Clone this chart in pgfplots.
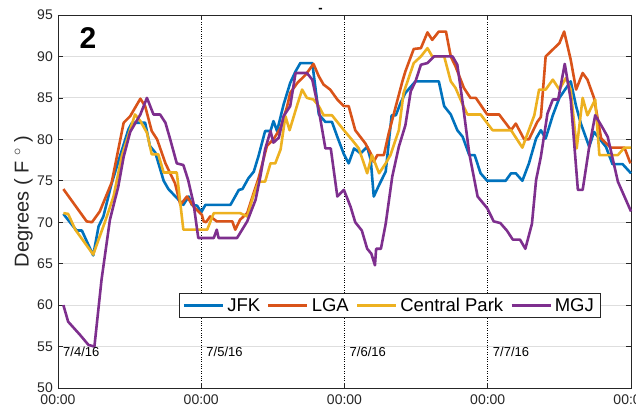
\documentclass[border=0pt]{standalone}
\usepackage{pgfplots}
\pgfplotsset{compat=1.18}
\usepackage{fontspec}
\setmainfont{Liberation Sans}
\definecolor{cJFK}{rgb}{0,0.447,0.741}
\definecolor{cLGA}{rgb}{0.85,0.325,0.098}
\definecolor{cCP}{rgb}{0.929,0.694,0.125}
\definecolor{cMGJ}{rgb}{0.494,0.184,0.556}
\definecolor{axgray}{rgb}{0.15,0.15,0.15}
\begin{document}
\begin{tikzpicture}
\begin{axis}[name=ax, scale only axis, width=573bp, height=373bp,
  xmin=0, xmax=96, ymin=50, ymax=95, clip=false,
  xtick={0,24,48,72,96}, xticklabels={00:00,00:00,00:00,00:00,00:00},
  ytick={50,55,...,95},
  tick align=inside, major tick length=5bp,
  axis line style={axgray, line width=0.7bp},
  every tick/.style={axgray, line width=0.7bp},
  ymajorgrids, xmajorgrids,
  y grid style={black!13, line width=0.8bp},
  x grid style={black, dotted, line width=0.8bp},
  tick label style={font=\fontsize{14bp}{16bp}\selectfont, text=axgray},
  /pgf/number format/assume math mode=true,
  yticklabel style={inner xsep=0pt, inner ysep=0pt, xshift=-5bp},
  xticklabel style={inner ysep=0pt, yshift=-6.5bp},
  ylabel={Degrees ( F $^\circ$ )},
  every axis y label/.style={at={(axis description cs:-0.0436,0.5)}, rotate=90, anchor=south, inner sep=0pt, font=\fontsize{20bp}{24bp}\selectfont, text=axgray},
  every axis plot/.append style={line width=2.6bp, line join=round},
  legend columns=4,
  legend style={at={(0.579,0.221)}, anchor=center, draw=axgray, line width=0.7bp,
    font=\fontsize{18.5bp}{22bp}\selectfont, inner xsep=3bp, inner ysep=3.5bp,
    nodes={inner xsep=3bp, inner ysep=1bp},
    /tikz/every even column/.append style={column sep=4bp}},
  legend image code/.code={\draw[#1] (0bp,0bp) -- (39bp,0bp);},
]
\addplot[cJFK] table {
0.9 71
3.1 69
4.0 69
5.9 66
6.8 69.5
7.6 70.7
9.0 74.7
10.4 78
11.8 81.2
12.4 82
14.6 82
15.4 79.2
16.3 78.4
17.7 75
18.5 74
21.0 72.1
21.9 73.1
22.4 72.1
23.3 72
24.0 71.2
24.7 72.1
28.9 72.1
30.3 73.9
30.9 74
31.9 75.3
32.8 76.1
33.6 78
34.7 81
35.6 81
36.1 82.2
36.7 81
37.8 84.2
38.9 86.8
39.8 88.2
40.6 89.2
42.6 89.2
43.7 83
44.8 82.1
45.9 82.1
46.8 80.3
47.9 78.2
48.7 77.1
49.6 78.9
50.7 78.3
51.8 79.1
52.4 77.5
52.9 73.1
53.8 74.5
54.9 76.1
55.9 82.9
56.6 82.9
57.4 84.4
58.2 85.6
59.9 87
63.8 87
64.7 84
65.8 83
66.9 81.1
67.8 80.3
68.9 78.1
69.8 78.1
70.8 75.9
71.9 75
75.0 75
75.9 75.9
76.7 75.9
77.8 75
78.9 77.1
80.1 80.1
80.9 81.1
81.7 80.1
82.9 82.9
84.0 85
85.9 87
86.8 84
87.6 81.9
89.0 79.1
89.8 80.9
91.8 79.1
92.9 77
94.6 77
96.0 75.9
};
\addlegendentry{JFK}
\addplot[cLGA] table {
0.9 74
4.8 70.1
5.7 70
7.0 71.3
9.0 74.8
11.0 82
12.1 82.8
13.8 84.9
14.6 84
15.7 81
16.6 80
18.0 77.1
19.6 74.7
20.5 72.1
21.6 73.1
22.7 71.9
24.1 70.9
24.4 70.1
24.8 70
25.5 70.7
26.6 70.1
29.2 70.1
29.7 69.1
30.5 70.3
31.7 71.1
32.5 72.9
33.6 75.3
35.0 79.2
36.1 80
37.3 81.4
38.4 84
38.9 85.6
40.1 86.8
41.5 87.8
42.8 89.1
43.7 87.6
44.5 86.6
45.6 86
46.8 84.8
47.9 84
48.7 84
49.8 81.1
51.5 79.5
52.4 78.3
52.9 77.3
53.5 78.1
54.6 78.1
55.4 80.7
56.6 84
57.7 87
58.2 88.2
59.6 90.9
60.8 91
61.9 92.9
62.7 92
63.8 93
65.0 93
65.8 90
66.6 88.8
68.0 86.2
69.1 85
70.0 85
71.9 83
73.9 83
75.9 81.1
76.7 81.9
78.1 80
78.9 80
80.3 82.1
80.9 82.7
81.7 90
84.0 91.6
84.8 93
85.9 89.6
86.8 86
87.9 88
88.7 87.2
89.8 85
91.0 80.1
92.6 79
94.9 79
95.9 77.1
};
\addlegendentry{LGA}
\addplot[cCP] table {
0.9 71.1
1.7 71
2.9 69.1
5.9 66.1
7.9 70.1
9.3 73.1
10.7 78
12.1 81.2
12.9 83
13.8 82.2
14.9 80.8
15.7 78.2
16.8 78.2
17.7 76
19.9 76
21.0 69.1
25.0 69.1
26.1 71.1
27.2 71.1
30.5 71.1
31.7 70.7
32.7 73.1
33.6 74.9
34.7 74.9
35.6 77.1
36.4 77.1
37.3 78.8
38.1 82.8
38.8 81.1
40.1 84.2
40.9 86
41.7 85
42.8 84.8
43.7 84
44.5 82.9
45.9 82.9
47.9 81.1
49.3 79.9
50.4 78.9
51.8 75.9
52.6 78.1
53.8 75.9
54.9 77.1
55.7 78.1
57.1 81.1
57.9 85.6
59.6 89.2
60.8 90
61.9 91
62.7 90
64.7 90
65.8 87
66.6 86.2
67.8 84.2
68.6 83
70.8 83
72.8 81.1
75.9 81.1
77.8 79
79.8 82.9
80.6 86
81.7 86
82.9 87.2
84.0 86
85.1 87.4
85.9 86
86.9 78.9
87.9 85
88.7 82.9
90.0 84.8
90.7 78.1
93.8 78.1
94.9 79
96.0 79
};
\addlegendentry{Central Park}
\addplot[cMGJ] table {
0.9 60
1.7 58
3.7 56.4
5.1 55.2
6.1 55
7.3 63.1
8.7 70.3
10.1 74.3
11.0 77.9
12.1 80.9
13.8 83
14.9 85
16.0 83
17.1 83
18.0 82
18.8 80
19.9 77.1
21.0 76.9
21.8 75.1
22.7 72.3
23.5 68.1
26.1 68.1
26.6 69.1
26.9 68.1
30.0 68.1
31.7 70.1
33.1 72.7
33.9 75.5
34.7 78.8
35.6 81
36.1 79.6
37.0 80.2
37.8 82.8
38.9 84
39.8 88
41.7 88
42.6 87.2
43.7 83.5
44.8 78.9
45.7 78.9
46.8 73.1
47.9 73.9
49.0 71.9
49.8 70
50.9 69
51.8 66.8
52.5 66.2
53.1 64.8
53.3 66.8
54.1 66.8
54.9 69.8
56.0 75.5
57.1 79.1
58.2 81.7
59.1 85.8
59.9 87
60.8 89
61.9 89.2
63.0 90
66.1 90
66.9 89
67.8 84.4
68.9 78.3
70.3 73.1
71.9 71.7
73.0 70.1
74.1 69.9
75.2 69
76.2 67.9
77.4 67.9
78.3 66.8
79.4 69.8
80.1 75.1
80.9 77.9
82.0 83.1
82.9 84.8
83.8 84.8
84.9 89.1
85.9 84.8
87.1 73.9
87.9 73.9
89.0 79.1
90.0 82.9
91.0 81.7
92.1 80.3
93.8 74.9
96.0 71.3
};
\addlegendentry{MGJ}
\node[anchor=west, inner sep=0pt, xshift=5bp, font=\fontsize{13bp}{15bp}\selectfont] at (axis cs:0,54.4) {7/4/16};
\node[anchor=west, inner sep=0pt, xshift=5bp, font=\fontsize{13bp}{15bp}\selectfont] at (axis cs:24,54.4) {7/5/16};
\node[anchor=west, inner sep=0pt, xshift=5bp, font=\fontsize{13bp}{15bp}\selectfont] at (axis cs:48,54.4) {7/6/16};
\node[anchor=west, inner sep=0pt, xshift=5bp, font=\fontsize{13bp}{15bp}\selectfont] at (axis cs:72,54.4) {7/7/16};
\node[font=\bfseries\fontsize{30bp}{30bp}\selectfont, inner sep=0pt] at (axis cs:5.0,92.2) {2};
\node[font=\bfseries\fontsize{13bp}{13bp}\selectfont, inner sep=0pt] at (axis cs:44,95.6) {-};
\end{axis}
\pgfresetboundingbox
\path[use as bounding box] ([xshift=-58bp,yshift=-20bp]ax.south west) rectangle ([xshift=5bp,yshift=15bp]ax.north east);
\end{tikzpicture}
\end{document}
